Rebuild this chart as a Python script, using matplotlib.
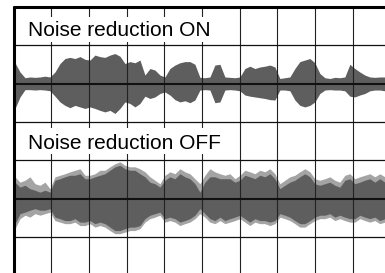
import numpy as np
import matplotlib
matplotlib.use("Agg")
import matplotlib.pyplot as plt
from matplotlib.patches import Rectangle

# ---- data (amplitudes in grid divisions) ----
labels = ["Noise reduction ON", "Noise reduction OFF"]

on_upper = [0.54, 0.30, 0.15, 0.17, 0.16, 0.17, 0.19, 0.17, 0.30, 0.52,
            0.65, 0.68, 0.65, 0.70, 0.63, 0.61, 0.74, 0.70, 0.68, 0.74,
            0.78, 0.71, 0.52, 0.57, 0.54, 0.61, 0.22, 0.39, 0.35, 0.22,
            0.17, 0.39, 0.48, 0.54, 0.57, 0.57, 0.50, 0.16, 0.15, 0.17,
            0.48, 0.50, 0.17, 0.16, 0.15, 0.17, 0.39, 0.45, 0.39, 0.43,
            0.45, 0.48, 0.43, 0.13, 0.15, 0.17, 0.39, 0.57, 0.61, 0.65,
            0.54, 0.26, 0.15, 0.13, 0.16, 0.15, 0.17, 0.50, 0.39, 0.30,
            0.22, 0.17, 0.16, 0.17, 0.17]
on_lower = [0.65, 0.35, 0.16, 0.16, 0.17, 0.16, 0.17, 0.19, 0.33, 0.48,
            0.57, 0.63, 0.57, 0.61, 0.65, 0.61, 0.65, 0.70, 0.74, 0.70,
            0.78, 0.65, 0.48, 0.52, 0.61, 0.52, 0.33, 0.39, 0.35, 0.26,
            0.22, 0.30, 0.42, 0.48, 0.45, 0.50, 0.43, 0.17, 0.16, 0.17,
            0.50, 0.48, 0.17, 0.16, 0.17, 0.19, 0.30, 0.33, 0.35, 0.37,
            0.39, 0.42, 0.43, 0.17, 0.17, 0.19, 0.43, 0.57, 0.61, 0.57,
            0.48, 0.26, 0.17, 0.16, 0.17, 0.17, 0.19, 0.33, 0.35, 0.30,
            0.26, 0.19, 0.17, 0.17, 0.19]

off_peak_upper = [0.57, 0.43, 0.48, 0.57, 0.39, 0.35, 0.43, 0.26, 0.57, 0.61,
                  0.65, 0.70, 0.74, 0.78, 0.61, 0.61, 0.65, 0.74, 0.74, 0.83,
                  0.91, 0.96, 0.87, 0.83, 0.83, 0.78, 0.70, 0.57, 0.48, 0.39,
                  0.61, 0.70, 0.65, 0.78, 0.70, 0.65, 0.52, 0.39, 0.61, 0.78,
                  0.70, 0.65, 0.61, 0.65, 0.52, 0.61, 0.74, 0.70, 0.65, 0.74,
                  0.70, 0.78, 0.65, 0.39, 0.48, 0.57, 0.61, 0.70, 0.78, 0.70,
                  0.52, 0.48, 0.52, 0.57, 0.48, 0.43, 0.61, 0.65, 0.52, 0.57,
                  0.61, 0.65, 0.57, 0.65, 0.57]
off_peak_lower = [0.78, 0.52, 0.43, 0.48, 0.39, 0.43, 0.39, 0.35, 0.57, 0.61,
                  0.65, 0.65, 0.61, 0.70, 0.70, 0.65, 0.74, 0.70, 0.74, 0.83,
                  0.91, 0.91, 0.87, 0.83, 0.83, 0.78, 0.61, 0.52, 0.48, 0.43,
                  0.61, 0.57, 0.61, 0.70, 0.65, 0.61, 0.52, 0.39, 0.48, 0.61,
                  0.65, 0.57, 0.65, 0.61, 0.57, 0.52, 0.61, 0.70, 0.61, 0.65,
                  0.65, 0.70, 0.65, 0.48, 0.52, 0.57, 0.65, 0.74, 0.74, 0.65,
                  0.57, 0.52, 0.52, 0.48, 0.57, 0.52, 0.57, 0.61, 0.61, 0.52,
                  0.57, 0.61, 0.57, 0.65, 0.61]
off_body_upper = [0.43, 0.30, 0.35, 0.26, 0.22, 0.17, 0.22, 0.17, 0.48, 0.52,
                  0.57, 0.61, 0.61, 0.65, 0.52, 0.52, 0.57, 0.61, 0.65, 0.74,
                  0.83, 0.87, 0.78, 0.74, 0.74, 0.65, 0.57, 0.43, 0.39, 0.30,
                  0.48, 0.57, 0.52, 0.65, 0.57, 0.52, 0.39, 0.17, 0.43, 0.57,
                  0.57, 0.52, 0.52, 0.52, 0.43, 0.48, 0.61, 0.57, 0.52, 0.61,
                  0.57, 0.65, 0.52, 0.26, 0.35, 0.43, 0.48, 0.57, 0.65, 0.57,
                  0.39, 0.35, 0.39, 0.43, 0.35, 0.30, 0.48, 0.52, 0.39, 0.43,
                  0.48, 0.52, 0.43, 0.52, 0.43]
off_body_lower = [0.65, 0.39, 0.35, 0.30, 0.26, 0.30, 0.30, 0.26, 0.48, 0.52,
                  0.57, 0.57, 0.52, 0.61, 0.61, 0.57, 0.65, 0.61, 0.65, 0.74,
                  0.83, 0.83, 0.78, 0.74, 0.74, 0.70, 0.52, 0.43, 0.39, 0.35,
                  0.52, 0.48, 0.52, 0.61, 0.57, 0.52, 0.43, 0.26, 0.39, 0.52,
                  0.57, 0.48, 0.57, 0.52, 0.48, 0.43, 0.52, 0.61, 0.52, 0.57,
                  0.57, 0.61, 0.57, 0.39, 0.43, 0.48, 0.57, 0.65, 0.65, 0.57,
                  0.48, 0.43, 0.43, 0.39, 0.48, 0.43, 0.48, 0.52, 0.52, 0.43,
                  0.48, 0.52, 0.48, 0.57, 0.52]

# sample times in grid divisions
t = np.linspace(0.04, 9.85, len(on_upper))

# ---- figure ----
W, H = 385, 273
fig = plt.figure(figsize=(W / 100, H / 100), dpi=100)
x0_px, cw = 13.5, 37.7
y0_px, ch = 6.7, 38.4
ax = fig.add_axes([0, 0, 1, 1])
ax.set_xlim(-x0_px / cw, (W - x0_px) / cw)
y_bot = -(H - y0_px) / ch
ax.set_ylim(y_bot, y0_px / ch)
ax.axis("off")

wave = "#5e5e5e"
peak = "#a4a4a4"

# ON waveform (center at -2)
c_on = -2
ax.fill_between(t, c_on + np.array(on_upper), c_on - np.array(on_lower),
                color=wave, lw=0, zorder=2)

# OFF waveform (center at -5)
c_off = -5
ax.fill_between(t, c_off + np.array(off_peak_upper), c_off - np.array(off_peak_lower),
                color=peak, lw=0, zorder=2)
ax.fill_between(t, c_off + np.array(off_body_upper), c_off - np.array(off_body_lower),
                color=wave, lw=0, zorder=2)

# grid
ax.vlines(range(1, 10), y_bot - 1, 0, color="#222222", lw=0.8, zorder=3)
ax.hlines([-1, -3, -4, -6], 0, 12, color="#111111", lw=0.9, zorder=3)
ax.hlines([c_on, c_off], 0, 12, color="#111111", lw=1.5, zorder=3)

# text boxes
ax.add_patch(Rectangle((0.03, -0.92), 5.87, 0.65, facecolor="white",
                       edgecolor="none", zorder=4))
ax.add_patch(Rectangle((0.03, -3.84), 5.87, 0.68, facecolor="white",
                       edgecolor="none", zorder=4))
ax.text(0.385, -0.763, labels[0], fontsize=15, family="Liberation Sans",
        va="baseline", ha="left", zorder=5)
ax.text(0.385, -3.706, labels[1], fontsize=15, family="Liberation Sans",
        va="baseline", ha="left", zorder=5)

# frame (left and top)
ax.vlines(0, y_bot - 1, 0.02, color="black", lw=2.2, zorder=6)
ax.hlines(0, -0.02, 12, color="black", lw=2.2, zorder=6)

fig.savefig("out.png", dpi=100)
